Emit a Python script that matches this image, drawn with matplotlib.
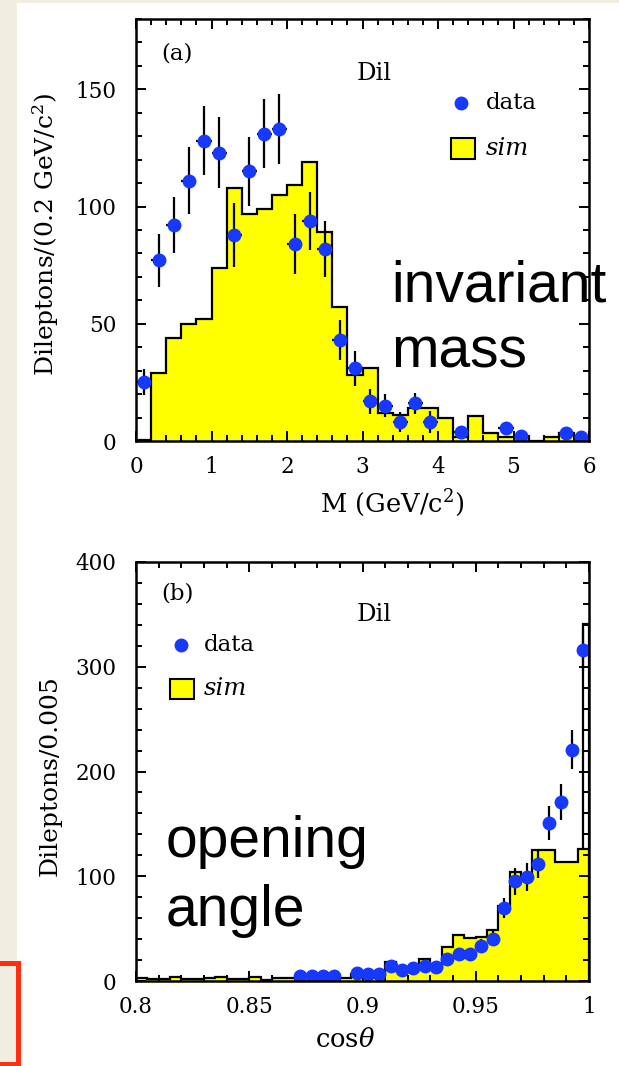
import numpy as np
import matplotlib.pyplot as plt
from matplotlib.patches import Rectangle
from matplotlib.ticker import MultipleLocator, FormatStrFormatter

plt.rcParams['font.family'] = 'DejaVu Serif'
plt.rcParams['mathtext.fontset'] = 'dejavuserif'

# (a) invariant mass, 0.2 GeV/c^2 bins
mass_edges = np.arange(0, 6.01, 0.2)
sim_mass = [0.5, 29, 44, 50, 52, 74, 108, 97, 99, 105, 109, 119, 89, 57, 28,
            31, 12, 11, 14, 14, 10, 1.5, 10.5, 3.3, 1.6, 1.6, 0, 1.6, 3.5, 1.6]
mass_pts = [0.1, 0.3, 0.5, 0.7, 0.9, 1.1, 1.3, 1.5, 1.7, 1.9, 2.1, 2.3, 2.5,
            2.7, 2.9, 3.1, 3.3, 3.5, 3.7, 3.9, 4.3, 4.9, 5.1, 5.7, 5.9]
data_mass = [25, 77, 92, 111, 128, 123, 88, 115, 131, 133, 84, 94, 82, 43, 31,
             17, 15, 8, 16, 8, 4, 5.4, 2, 3.5, 1.8]
err_mass = [5.5, 11.3, 11.9, 14.2, 14.7, 15.1, 13.6, 14.6, 14.7, 15, 12.8,
            12.4, 11.9, 8.4, 7.5, 5.3, 4.9, 4.2, 4.4, 4.6, 2.5, 2.5, 1.5, 2, 1.5]

# (b) opening angle, 0.005 bins in cos(theta)
cos_edges = np.linspace(0.8, 1.0, 41)
sim_cos = [2.5, 1.5, 1.5, 4, 1.5, 1.5, 2.5, 4, 2, 2, 4, 1, 2.5, 2.5, 2.5,
           2.5, 2.5, 2.5, 2.5, 7, 7, 7, 18, 12, 12, 21, 13, 32, 44, 41,
           42, 49, 72, 104, 97, 125, 125, 114, 114, 126]
sim_cos_last = 341  # narrow top bin at cos -> 1
cos_pts = [0.8725, 0.8775, 0.8825, 0.8875, 0.8975, 0.9025, 0.9075, 0.9125,
           0.9175, 0.9225, 0.9275, 0.9325, 0.9375, 0.9425, 0.9475, 0.9525,
           0.9575, 0.9625, 0.9675, 0.9725, 0.9775, 0.9825, 0.9875, 0.9925, 0.9975]
data_cos = [5, 5, 5, 5, 8, 6.5, 7, 14, 10.5, 12, 14.5, 13.5, 21, 25.5, 25.5,
            33.5, 40.5, 70, 95, 99, 112, 151, 171, 221, 316]
err_cos = [2, 2, 2, 2, 3, 3, 3, 4, 3.5, 4, 4, 4, 5, 6, 6, 6.5, 7, 9.5, 13,
           13.5, 14, 16, 17, 19, 20]

blue = '#1638ff'
yellow = '#ffff00'
beige = '#f1ede0'

fig = plt.figure(figsize=(6.19, 10.66), dpi=100)
fig.patches.append(Rectangle((0, 0.0985), 17/619, 1, transform=fig.transFigure,
                             fc=beige, ec='none', zorder=0))
fig.patches.append(Rectangle((0, 1 - 3/1066), 1, 3/1066, transform=fig.transFigure,
                             fc=beige, ec='none', zorder=0))
fig.patches.append(Rectangle((-0.01, 0.0019), 0.039, 0.0943, transform=fig.transFigure,
                             fc=beige, ec='#ff3010', lw=3.6, zorder=1))


def style_axes(ax):
    ax.tick_params(which='both', direction='in', top=True, right=True,
                   width=1.4, labelsize=15.5)
    ax.tick_params(which='major', length=7.5)
    ax.tick_params(which='minor', length=4)
    ax.tick_params(axis='y', pad=14)
    ax.tick_params(axis='x', pad=11)
    for s in ax.spines.values():
        s.set_linewidth(1.8)
        s.set_zorder(5)


def legend(ax, xm, ym, xb, yb, xt):
    ax.plot([xm], [ym], 'o', color=blue, ms=9, transform=ax.transAxes)
    ax.text(xt, ym, 'data', transform=ax.transAxes, fontsize=16.5, va='center')
    ax.add_patch(Rectangle((xb, yb), 0.053, 0.049, transform=ax.transAxes,
                           fc=yellow, ec='k', lw=1.5))
    ax.text(xt, yb + 0.025, 'sim', transform=ax.transAxes, fontsize=17.5,
            style='italic', va='center')


# invariant mass
ax1 = fig.add_axes([136/619, 1 - 441/1066, 453/619, 422/1066])
ax1.stairs(sim_mass, mass_edges, fill=True, color=yellow)
ax1.stairs(sim_mass, mass_edges, color='k', lw=1.6)
ax1.errorbar(mass_pts, data_mass, yerr=err_mass, xerr=0.1, fmt='o', color=blue,
             ms=9, ecolor='k', elinewidth=1.6, capsize=0, zorder=4)
ax1.set_xlim(0, 6)
ax1.set_ylim(0, 180)
ax1.xaxis.set_major_locator(MultipleLocator(1))
ax1.xaxis.set_minor_locator(MultipleLocator(0.2))
ax1.yaxis.set_major_locator(MultipleLocator(50))
ax1.yaxis.set_minor_locator(MultipleLocator(10))
style_axes(ax1)
ax1.set_xlabel('M (GeV/c$^2$)', fontsize=18.5)
ax1.set_ylabel('Dileptons/(0.2 GeV/c$^2$)', fontsize=18)
ax1.xaxis.set_label_coords(0.565, -0.11)
ax1.yaxis.set_label_coords(-0.165, 0.49)
ax1.text(0.0905, 0.919, '(a)', transform=ax1.transAxes, fontsize=16.5,
         ha='center', va='center')
ax1.text(0.525, 0.870, 'Dil', transform=ax1.transAxes, fontsize=17.5,
         ha='center', va='center')
legend(ax1, 0.717, 0.801, 0.695, 0.668, 0.772)

# opening angle
ax2 = fig.add_axes([136/619, 1 - 981/1066, 453/619, 419/1066])
ax2.stairs(sim_cos, cos_edges, fill=True, color=yellow)
ax2.stairs(sim_cos, cos_edges, color='k', lw=1.6)
ax2.stairs([sim_cos_last], [0.9975, 1.0], baseline=sim_cos[-1], color='k', lw=1.6)
ax2.errorbar(cos_pts, data_cos, yerr=err_cos, xerr=0.0025, fmt='o', color=blue,
             ms=9, ecolor='k', elinewidth=1.6, capsize=0, zorder=4)
ax2.set_xlim(0.8, 1.0)
ax2.set_ylim(0, 400)
ax2.xaxis.set_major_locator(MultipleLocator(0.05))
ax2.xaxis.set_minor_locator(MultipleLocator(0.01))
ax2.xaxis.set_major_formatter(FormatStrFormatter('%g'))
ax2.yaxis.set_major_locator(MultipleLocator(100))
ax2.yaxis.set_minor_locator(MultipleLocator(20))
style_axes(ax2)
ax2.set_xlabel(r'cos$\theta$', fontsize=18.5)
ax2.set_ylabel('Dileptons/0.005', fontsize=18)
ax2.xaxis.set_label_coords(0.461, -0.11)
ax2.yaxis.set_label_coords(-0.165, 0.49)
ax2.text(0.0905, 0.924, '(b)', transform=ax2.transAxes, fontsize=16.5,
         ha='center', va='center')
ax2.text(0.525, 0.875, 'Dil', transform=ax2.transAxes, fontsize=17.5,
         ha='center', va='center')
legend(ax2, 0.100, 0.803, 0.074, 0.6725, 0.150)

# big annotations
fig.text(390.8/619, 1 - 301/1066, 'invariant', family='Liberation Sans', fontsize=41)
fig.text(390.8/619, 1 - 368/1066, 'mass', family='Liberation Sans', fontsize=41)
fig.text(165.6/619, 1 - 857/1066, 'opening', family='Liberation Sans', fontsize=41)
fig.text(165.6/619, 1 - 926/1066, 'angle', family='Liberation Sans', fontsize=41)

fig.savefig('out.png', dpi=100)
